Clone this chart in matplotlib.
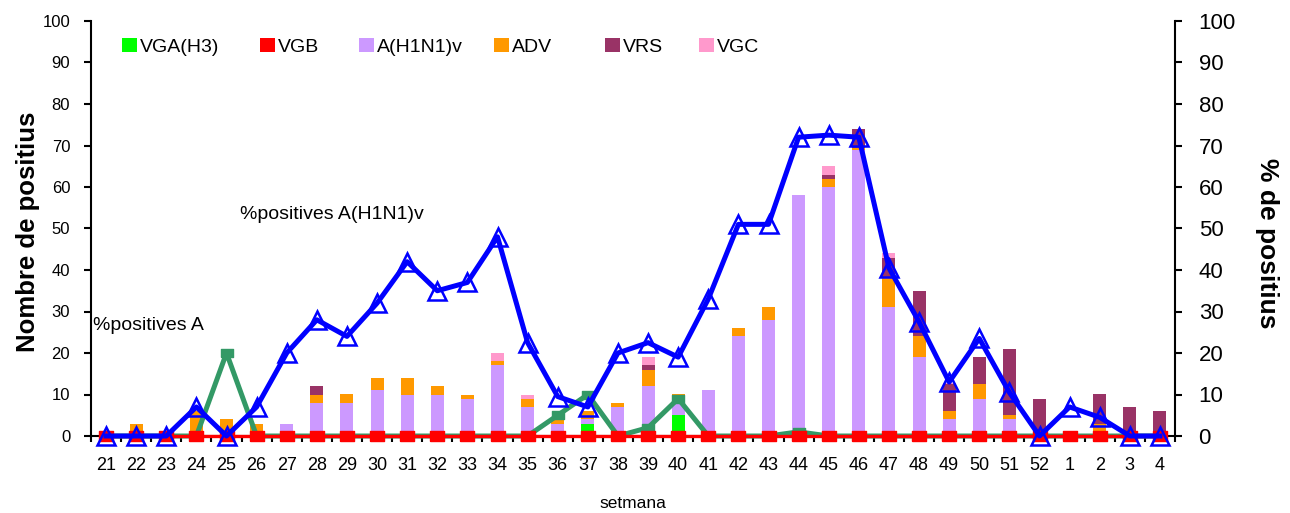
import numpy as np
import matplotlib
matplotlib.use("Agg")
import matplotlib.pyplot as plt
from matplotlib.patches import Patch

plt.rcParams['font.family'] = ['Liberation Sans', 'DejaVu Sans']

weeks = [str(w) for w in range(21, 53)] + ['1', '2', '3', '4']

# stacked bar counts (left axis)
vga_h3 = [0, 0, 0, 0, 0, 0, 0, 0, 0, 0, 0, 0, 0, 0, 0, 1, 3, 0, 0, 5,
          0, 0, 0, 0, 0, 0, 0, 0, 0, 0, 0, 0, 0, 0, 0, 0]
vgb = [0] * 36
h1n1 = [0, 0, 0, 1, 0, 1, 3, 8, 8, 11, 10, 10, 9, 17, 7, 2, 1, 7, 12, 3,
        11, 24, 28, 58, 60, 69, 31, 19, 4, 9, 4, 0, 0, 1, 0, 0]
adv = [0, 3, 1, 5, 4, 2, 0, 2, 2, 3, 4, 2, 1, 1, 2, 1, 2, 1, 4, 2,
       0, 2, 3, 0, 2, 0.3, 7, 5, 2, 3.5, 1, 0, 1, 2, 0, 0]
vrs = [0, 0, 0, 0, 0, 0, 0, 2, 0, 0, 0, 0, 0, 0, 0, 0, 0, 0, 1, 0,
       0, 0, 0, 0, 1, 4.7, 5, 11, 6.5, 6.5, 16, 9, 0, 7, 7, 6]
vgc = [0, 0, 0, 0, 0, 0, 0, 0, 0, 0, 0, 0, 0, 2, 1, 0, 0, 0, 2, 0,
       0, 0, 0, 0, 2, 0, 1, 0, 0.3, 0, 0, 0, 0, 0, 0, 0]

# percentage lines (right axis)
pct_a = [0, 0, 0, 0, 20, 0, 0, 0, 0, 0, 0, 0, 0, 0, 0, 5, 10, 0, 2, 9,
         0, 0, 0, 1, 0, 0, 0, 0, 0, 0, 0, 0, 0, 0, 0, 0]
pct_b = [0] * 36
pct_h1n1 = [0, 0, 0, 7, 0, 7, 20, 28, 24, 32, 42, 35, 37, 48, 22.5, 9.5, 7, 20, 22.5, 19,
            33, 51, 51, 72, 72.5, 72, 40.5, 27.5, 13, 23.5, 10.5, 0, 7, 4.5, 0, 0]

series = [
    (vga_h3, '#00FF00', 'VGA(H3)'),
    (vgb, '#FF0000', 'VGB'),
    (h1n1, '#CC99FF', 'A(H1N1)v'),
    (adv, '#FF9900', 'ADV'),
    (vrs, '#993366', 'VRS'),
    (vgc, '#FF99CC', 'VGC'),
]

W, H = 1290, 513
fig = plt.figure(figsize=(12.9, 5.13), dpi=100)
ax = fig.add_axes([91 / W, 1 - 436 / H, (1175 - 91) / W, (436 - 21) / H])

x = np.arange(len(weeks))
bottom = np.zeros(len(weeks))
for vals, color, label in series:
    v = np.array(vals, dtype=float)
    ax.bar(x, v, 0.43, bottom=bottom, color=color, label=label, linewidth=0, zorder=2)
    bottom += v

ax.set_xlim(-0.5, len(weeks) - 0.5)
ax.set_ylim(0, 100)
ax.set_yticks(range(0, 101, 10))
ax.set_xticks(x, labels=weeks)
ax.set_xticks(np.arange(-0.5, len(weeks), 1), minor=True)
ax.tick_params(axis='x', which='major', length=0, pad=15, labelsize=13)
ax.tick_params(axis='x', which='minor', length=4, width=1.5, direction='out')
ax.tick_params(axis='y', length=5, width=1.5, direction='out', pad=10, labelsize=12)
for s in ['top', 'right']:
    ax.spines[s].set_visible(False)
ax.spines['left'].set_linewidth(1.5)
ax.spines['bottom'].set_linewidth(1.5)

ax2 = ax.twinx()
ax2.set_ylim(0, 100)
ax2.set_yticks(range(0, 101, 10))
ax2.tick_params(axis='y', length=5, width=1.5, direction='out', pad=12, labelsize=16)
for s in ['top', 'left', 'bottom']:
    ax2.spines[s].set_visible(False)
ax2.spines['right'].set_linewidth(1.5)

rect = [(-1.5, -1), (1.5, -1), (1.5, 1), (-1.5, 1), (-1.5, -1)]
ax2.plot(x, pct_a, color='#339966', lw=3.6, marker=rect, ms=9,
         mfc='#339966', mec='#339966', clip_on=False, zorder=3)
ax2.plot(x, pct_b, color='#FF0000', lw=2.4, marker=rect, ms=10,
         mfc='#FF0000', mec='#FF0000', clip_on=False, zorder=4)
ax2.plot(x, pct_h1n1, color='#0000FF', lw=3.6, marker='^', ms=13,
         mfc='none', mec='#0000FF', mew=1.8, clip_on=False, zorder=5)

# axis titles
fig.text(28 / W, 1 - 232 / H, 'Nombre de positius', fontsize=18.5, fontweight='bold',
         rotation=90, ha='center', va='center')
fig.text(1267 / W, 1 - 243 / H, '% de positius', fontsize=19, fontweight='bold',
         rotation=-90, ha='center', va='center')
fig.text(633 / W, 1 - 503 / H, 'setmana', fontsize=12.5, ha='center', va='center')

fig.text(240 / W, 1 - 215 / H, '%positives A(H1N1)v', fontsize=14, va='center')
fig.text(93 / W, 1 - 325 / H, '%positives A', fontsize=14, va='center')

# legend entries placed individually
leg_x = [122, 260, 359, 494, 605, 699]
for (vals, color, label), lx in zip(series, leg_x):
    lg = fig.legend(handles=[Patch(facecolor=color, edgecolor='none', label=label)],
                    loc='center left', bbox_to_anchor=(lx / W, 1 - 47 / H),
                    frameon=False, fontsize=14, handlelength=0.75, handleheight=0.75,
                    handletextpad=0.15, borderpad=0, borderaxespad=0)

fig.savefig('out.png', dpi=100)
